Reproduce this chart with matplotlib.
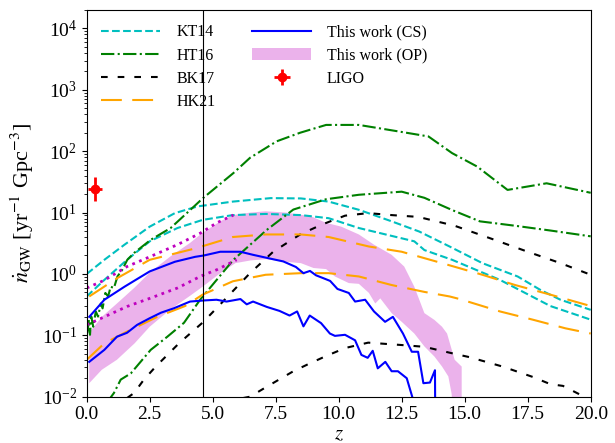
import numpy as np
import matplotlib
matplotlib.use("Agg")
import matplotlib.pyplot as plt

plt.rcParams['font.family'] = 'serif'
plt.rcParams['font.serif'] = ['Liberation Serif', 'DejaVu Serif']
plt.rcParams['mathtext.fontset'] = 'stix'

# KT14 (dwa warianty)
kt14_z = [0.0, 0.7, 1.5, 2.5, 3.5, 4.4, 5.8, 7.3, 8.5, 9.6, 10.8, 12.1, 13.2, 14.4, 15.7, 17.1, 18.0, 18.8, 20.0]
kt14_hi = [1.0, 1.7, 3.0, 5.9, 9.8, 12.6, 15.1, 17.2, 17.0, 15.1, 11.1, 7.2, 4.9, 2.8, 1.5, 0.91, 0.55, 0.38, 0.26]
kt14_lo_z = [0.0, 0.7, 1.6, 2.5, 3.6, 4.6, 5.8, 7.1, 8.5, 9.6, 10.8, 13.0, 13.4, 14.5, 16.4, 18.4, 20.0]
kt14_lo = [0.43, 0.8, 1.7, 3.4, 5.6, 7.6, 9.1, 9.5, 9.1, 8.1, 5.6, 3.4, 2.45, 1.7, 0.8, 0.3, 0.18]

# HT16
ht16_z = [0.02, 0.09, 0.13, 0.18, 0.26, 0.36, 0.45, 0.56, 0.63, 0.74, 0.85, 0.95, 1.08, 1.22, 1.41,
          1.61, 1.88, 2.54, 3.33, 4.26, 4.6, 5.82, 6.48, 7.54, 8.47, 9.5, 10.8, 12.4, 13.56, 14.5,
          15.5, 16.7, 18.25, 20.0]
ht16_hi = [0.108, 0.178, 0.102, 0.202, 0.138, 0.245, 0.202, 0.33, 0.275, 0.49, 0.43, 0.62, 0.59, 0.91, 1.17,
           1.7, 2.2, 3.6, 5.6, 12.6, 17.0, 44, 78, 145, 200, 268, 268, 209, 174, 93,
           56, 23.4, 30, 21]
ht16_lo_z = [0.8, 1.08, 1.35, 1.75, 2.54, 3.2, 3.86, 4.5, 5.82, 7.14, 8.2, 9.5, 10.8, 12.5, 13.4, 14.5, 15.6, 17.0, 18.4, 20.0]
ht16_lo = [0.008, 0.0115, 0.019, 0.024, 0.058, 0.095, 0.16, 0.38, 1.7, 5.2, 11.2, 16.5, 19.5, 21.9, 17.4, 11.0, 7.2, 6.1, 5.1, 4.1]

# BK17
bk17_z = [1.6, 1.88, 2.27, 2.74, 3.66, 4.19, 4.59, 5.09, 6.48, 7.4, 8.47, 9.3, 10.25, 11.17, 12.1, 13.16, 14.6, 16.1, 17.5, 18.8, 20.0]
bk17_hi = [0.0095, 0.0115, 0.019, 0.031, 0.074, 0.115, 0.16, 0.26, 1.03, 2.3, 4.4, 6.3, 8.9, 9.8, 9.1, 8.5, 6.1, 3.7, 2.3, 1.5, 0.97]
bk17_lo_z = [6.2, 6.48, 7.14, 8.2, 8.86, 9.5, 10.25, 11.17, 12.6, 13.4, 14.5, 15.2, 16.5, 17.7, 18.4, 18.9, 19.6, 20.0]
bk17_lo = [0.0095, 0.01, 0.0145, 0.026, 0.035, 0.046, 0.062, 0.076, 0.069, 0.065, 0.051, 0.044, 0.031, 0.021, 0.016, 0.015, 0.0107, 0.0092]

# HK21
hk21_z = [0.1, 1.2, 2.5, 4.3, 5.8, 7.1, 8.5, 9.6, 11.2, 12.5, 14.1, 15.7, 17.0, 18.4, 20.0]
hk21_hi = [0.43, 0.85, 1.7, 2.6, 4.0, 4.4, 4.4, 4.0, 2.8, 2.3, 1.5, 0.97, 0.66, 0.46, 0.30]
hk21_lo_z = [0.0, 0.7, 1.6, 2.8, 3.9, 4.6, 5.8, 7.1, 8.5, 9.6, 10.8, 12.1, 13.4, 14.4, 14.8, 16.4, 17.7, 19.0, 20.0]
hk21_lo = [0.04, 0.074, 0.115, 0.2, 0.3, 0.46, 0.76, 0.97, 1.03, 1.03, 0.91, 0.66, 0.51, 0.43, 0.39, 0.245, 0.18, 0.13, 0.107]

# This work (CS)
cs_hi_z = [0.1, 0.7, 1.5, 2.5, 3.5, 4.3, 4.65, 5.3, 6.1, 6.6, 7.5, 7.8, 8.3, 8.6, 8.86, 9.1, 9.4, 9.66, 9.95,
           10.4, 10.65, 11.05, 11.4, 11.84, 12.15, 12.55, 12.9, 13.15, 13.36, 13.62, 13.82, 13.83]
cs_hi = [0.2, 0.38, 0.62, 1.1, 1.58, 1.9, 2.0, 2.3, 2.3, 2.05, 1.7, 1.6, 1.3, 1.03, 1.12, 0.95, 0.85, 0.77, 0.57,
         0.49, 0.355, 0.38, 0.245, 0.166, 0.2, 0.107, 0.054, 0.054, 0.0166, 0.017, 0.027, 0.005]
cs_lo_z = [0.1, 0.7, 1.2, 1.6, 2.0, 2.5, 2.95, 3.45, 4.1, 4.65, 5.15, 5.55, 6.1, 6.35, 6.6, 7.15, 7.65, 8.05,
           8.35, 8.6, 8.85, 9.3, 9.65, 9.85, 10.25, 10.65, 10.9, 11.15, 11.35, 11.55, 11.85, 12.1, 12.35, 12.7, 12.95]
cs_lo = [0.037, 0.058, 0.095, 0.11, 0.148, 0.19, 0.234, 0.275, 0.355, 0.37, 0.38, 0.355, 0.39, 0.32, 0.355, 0.29,
         0.25, 0.21, 0.245, 0.14, 0.21, 0.158, 0.107, 0.098, 0.102, 0.083, 0.048, 0.043, 0.056, 0.029, 0.037,
         0.026, 0.026, 0.02, 0.009]

# This work (OP) - pasmo
op_up_z = [0.1, 0.6, 1.2, 1.9, 2.5, 3.3, 4.1, 4.6, 5.3, 5.8, 6.5, 7.1, 7.9, 8.9, 9.5, 10.1, 10.8, 11.4,
           12.1, 12.6, 13.0, 13.4, 13.8, 14.1, 14.3, 14.6, 14.88, 14.88]
op_up = [0.11, 0.2, 0.33, 0.6, 1.05, 1.9, 3.2, 4.7, 7.2, 9.1, 10.0, 10.5, 10.0, 8.7, 6.8, 5.9, 4.4, 3.0,
         2.05, 1.32, 0.62, 0.23, 0.178, 0.138, 0.107, 0.04, 0.031, 0.0001]
op_lo_z = [0.1, 0.6, 1.2, 1.9, 2.5, 3.3, 4.1, 4.6, 5.3, 5.9, 6.5, 7.1, 7.9, 8.5, 9.0, 9.5, 9.85, 10.4,
           10.8, 11.2, 11.45, 11.65, 12.1, 12.5, 13.0, 13.4, 13.8, 14.1, 14.35, 14.48]
op_lo = [0.0166, 0.0275, 0.04, 0.074, 0.138, 0.26, 0.44, 0.62, 1.03, 1.5, 1.66, 1.74, 1.58, 1.5, 1.25, 1.2,
         0.91, 0.71, 0.69, 0.49, 0.33, 0.4, 0.23, 0.166, 0.107, 0.066, 0.045, 0.031, 0.0214, 0.0112]

# OP - linie kropkowane
op_dot_z = [0.0, 0.7, 1.6, 2.5, 3.6, 4.5, 5.16, 5.82]
op_dot_hi = [0.59, 0.79, 1.32, 1.9, 3.0, 4.6, 6.8, 9.1]
op_dot_lo_z = [0.0, 0.7, 1.6, 2.5, 3.6, 4.55, 5.16, 5.95]
op_dot_lo = [0.148, 0.2, 0.295, 0.40, 0.59, 0.93, 1.17, 1.7]

# LIGO
ligo_z = [0.33]
ligo_rate = [24.0]
ligo_zerr = [0.28]
ligo_err_lo = [8.5]
ligo_err_hi = [14.5]

z_line = 4.6

fig = plt.figure(figsize=(6.15, 4.43), dpi=100)
ax = fig.add_axes([0.141, 0.1045, 0.8195, 0.873])

ax.plot(kt14_z, kt14_hi, color='c', ls='--', lw=1.5, label='KT14')
ax.plot(kt14_lo_z, kt14_lo, color='c', ls='--', lw=1.5)
ax.plot(ht16_z, ht16_hi, color='g', ls='-.', lw=1.5, label='HT16')
ax.plot(ht16_lo_z, ht16_lo, color='g', ls='-.', lw=1.5)
ax.plot(bk17_z, bk17_hi, color='k', ls=(0, (3.2, 4.8)), lw=1.5, label='BK17')
ax.plot(bk17_lo_z, bk17_lo, color='k', ls=(0, (3.2, 4.8)), lw=1.5)
ax.plot(hk21_z, hk21_hi, color='orange', ls=(0, (10, 5)), lw=1.5, label='HK21')
ax.plot(hk21_lo_z, hk21_lo, color='orange', ls=(0, (10, 5)), lw=1.5)

ax.plot(cs_hi_z, cs_hi, color='b', lw=1.5, label='This work (CS)')
ax.plot(cs_lo_z, cs_lo, color='b', lw=1.5)

ax.fill(np.concatenate([op_up_z, op_lo_z[::-1]]), np.concatenate([op_up, op_lo[::-1]]),
        color='m', alpha=0.3, lw=0, label='This work (OP)')
ax.plot(op_dot_z, op_dot_hi, color='m', ls=':', lw=2)
ax.plot(op_dot_lo_z, op_dot_lo, color='m', ls=':', lw=2)

ax.errorbar(ligo_z, ligo_rate, xerr=ligo_zerr, yerr=[ligo_err_lo, ligo_err_hi],
            fmt='o', color='r', ms=6, elinewidth=2, label='LIGO')

ax.axvline(z_line, color='k', lw=0.8)

ax.set_yscale('log')
ax.set_xlim(0, 20)
ax.set_ylim(1e-2, 2e4)
ax.set_xlabel('$z$', fontsize=15, labelpad=1)
ax.set_ylabel(r'$\dot{n}_{\rm GW}$ [yr$^{-1}$ Gpc$^{-3}$]', fontsize=16)
ax.tick_params(labelsize=14)

ax.legend(loc='upper left', ncol=2, frameon=False, fontsize=11.5, handlelength=3.7,
          handletextpad=1.0, columnspacing=2.3, labelspacing=0.45)

fig.savefig('out.png', dpi=100)
